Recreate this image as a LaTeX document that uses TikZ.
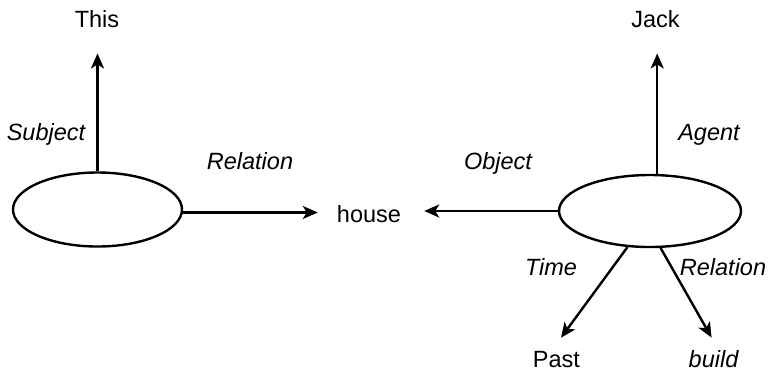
\documentclass[tikz,border=0pt]{standalone}
\usepackage{fontspec}
\setmainfont{Liberation Sans}
\usetikzlibrary{arrows.meta,shapes.geometric}
\begin{document}
\begin{tikzpicture}[x=1pt,y=-1pt,
  lbl/.style={font=\fontsize{23.5}{27}\selectfont, inner sep=0pt, anchor=base},
  ilbl/.style={lbl, font=\fontsize{23.5}{27}\selectfont\itshape},
  sem/.style={ellipse, draw, line width=2.4pt, inner sep=0pt},
  arr/.style={-{Stealth[length=15pt,width=13pt,inset=4pt]}, line width=2.4pt}]
\useasboundingbox (0,0) rectangle (770,373);
% frames
\node[sem, minimum width=169pt, minimum height=74pt] (e1) at (97.5,209.5) {};
\node[sem, minimum width=182pt, minimum height=72pt] (e2) at (650,211) {};
% concept labels
\node[lbl] (this) at (97,27) {This};
\node[lbl] (jack) at (655.5,27) {Jack};
\node[lbl] (house) at (369,222) {house};
\node[lbl] (past) at (556.5,367) {Past};
\node[ilbl] (build) at (713.5,367) {build};
% role labels
\node[ilbl] (lsubj) at (46,140) {Subject};
\node[ilbl] (lrel1) at (250,169) {Relation};
\node[ilbl] (lobj) at (498,169) {Object};
\node[ilbl] (lagent) at (709,140) {Agent};
\node[ilbl] (ltime) at (551,275) {Time};
\node[ilbl] (lrel2) at (723,275) {Relation};
% connectors
\draw[arr, shorten >=26pt] (e1.north) -- (e1.north |- this.south);
\draw[arr, shorten >=19pt] (e1.-2.5) -- (e1.-2.5 -| house.west);
\draw[arr, shorten >=26pt] (e2.79) -- (e2.79 |- jack.south);
\draw[arr, shorten >=23pt] (e2.west) -- (e2.west -| house.east);
\draw[arr, shorten >=16pt] (e2.238) -- ([xshift=-5pt]past.north);
\draw[arr, shorten >=14pt] (e2.286) -- ([xshift=5pt]build.north);
\end{tikzpicture}
\end{document}
